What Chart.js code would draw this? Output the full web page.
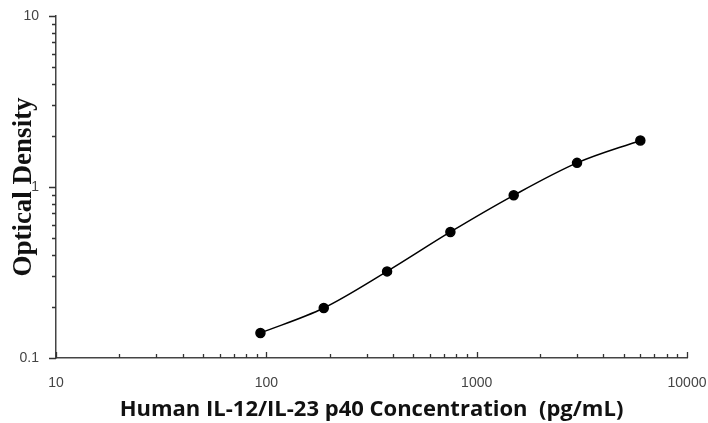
<!DOCTYPE html>
<html>
<head>
<meta charset="utf-8">
<script src="https://cdn.jsdelivr.net/npm/chart.js@4.4.1/dist/chart.umd.min.js"></script>
<style>
html,body{margin:0;padding:0;background:#fff;}
#wrap{width:708px;height:423px;position:relative;}
</style>
</head>
<body>
<div id="wrap"><canvas id="c" width="708" height="423"></canvas></div>
<script>
// Data
const concentrations = [93.75, 187.5, 375, 750, 1500, 3000, 6000];
const opticalDensity = [0.14, 0.196, 0.321, 0.546, 0.894, 1.384, 1.872];
const xTickValues = [10, 100, 1000, 10000];
const yTickValues = [0.1, 1, 10];
const xTitle = 'Human IL-12/IL-23 p40 Concentration  (pg/mL)';
const yTitle = 'Optical Density';

const points = concentrations.map((c, i) => ({x: c, y: opticalDensity[i]}));

function minorValues(min, max) {
  const out = [];
  for (let d = min; d < max; d *= 10) {
    for (let k = 1; k <= 9; k++) {
      const v = +(d * k).toPrecision(6);
      if (v >= min && v <= max) out.push({v, major: k === 1});
    }
  }
  out.push({v: max, major: true});
  return out;
}

const tickPlugin = {
  id: 'tickMarks',
  afterDraw(chart) {
    const ctx = chart.ctx;
    const xs = chart.scales.x, ys = chart.scales.y;
    const x0 = xs.left, y0 = ys.bottom;
    ctx.save();
    ctx.strokeStyle = '#333';
    ctx.lineWidth = 1.3;
    ctx.beginPath();
    minorValues(0.1, 10).forEach(t => {
      const py = Math.round(ys.getPixelForValue(t.v)) + 0.5;
      ctx.moveTo(x0 - (t.major ? 7 : 4), py);
      ctx.lineTo(x0, py);
    });
    minorValues(10, 10000).forEach(t => {
      const px = Math.round(xs.getPixelForValue(t.v)) + 0.5;
      ctx.moveTo(px, y0);
      ctx.lineTo(px, y0 - (t.major ? 6 : 4));
    });
    ctx.stroke();
    ctx.restore();
  }
};

new Chart(document.getElementById('c'), {
  type: 'scatter',
  data: {
    datasets: [{
      data: points,
      showLine: true,
      borderColor: '#000',
      backgroundColor: '#000',
      borderWidth: 1.5,
      pointRadius: 4.5,
      pointHoverRadius: 4.5,
      cubicInterpolationMode: 'monotone'
    }]
  },
  options: {
    responsive: false,
    animation: false,
    devicePixelRatio: 1,
    layout: {padding: {top: 16, right: 21, left: 0, bottom: 0}},
    plugins: {legend: {display: false}, tooltip: {enabled: false}},
    scales: {
      x: {
        type: 'logarithmic',
        min: 10, max: 10000,
        afterBuildTicks: s => { s.ticks = xTickValues.map(v => ({value: v})); },
        afterFit: s => { s.height = 65; s.paddingLeft = 0; s.paddingRight = 0; },
        grid: {display: false},
        border: {display: true, color: '#444', width: 1.5},
        ticks: {
          autoSkip: false, maxRotation: 0, padding: 9,
          color: '#444',
          font: {family: 'Liberation Sans', size: 14},
          callback: v => String(v)
        },
        title: {
          display: true, text: xTitle, color: '#111',
          font: {family: 'Open Sans', size: 22, weight: 'bold'},
          padding: {top: 0, bottom: 0}
        }
      },
      y: {
        type: 'logarithmic',
        min: 0.1, max: 10,
        afterBuildTicks: s => { s.ticks = yTickValues.map(v => ({value: v})); },
        afterFit: s => { s.width = 56; s.paddingTop = 0; s.paddingBottom = 0; },
        grid: {display: false},
        border: {display: true, color: '#444', width: 1.5},
        ticks: {
          autoSkip: false, padding: 9,
          color: '#444',
          font: {family: 'Liberation Sans', size: 14},
          callback: v => String(v)
        },
        title: {
          display: true, text: yTitle, color: '#111',
          font: {family: 'Liberation Serif', size: 27, weight: 'bold'},
          padding: {top: 8, bottom: 0}
        }
      }
    }
  },
  plugins: [tickPlugin]
});
</script>
</body>
</html>
